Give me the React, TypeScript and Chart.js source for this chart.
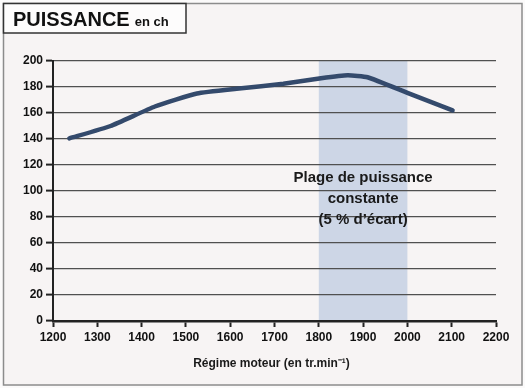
import React, { useEffect, useRef } from "react";
import { Chart, registerables } from "chart.js";

Chart.register(...registerables);

// ---- data ----
const RPM = [1237, 1330, 1430, 1525, 1620, 1720, 1805, 1865, 1910, 2000, 2102];
const POWER = [140.5, 150, 165, 175, 178.8, 182.5, 186.7, 189, 187.5, 175.5, 162];
const X_MIN = 1200;
const X_MAX = 2200;
const X_STEP = 100;
const Y_MIN = 0;
const Y_MAX = 200;
const Y_STEP = 20;
const BAND_START = 1800;
const BAND_END = 2000;
const BAND_LABEL = ["Plage de puissance", "constante", "(5 % d’écart)"];
const BAND_LABEL_VALUES = [110, 94, 78];
const TITLE_MAIN = "PUISSANCE";
const TITLE_UNIT = "en ch";
const X_TITLE = "Régime moteur (en tr.min⁻¹)";

const FONT = "'Liberation Sans', Arial, Helvetica, sans-serif";
const NARROW = "'Liberation Sans Narrow', 'Liberation Sans', Arial, sans-serif";
const BG = "#f7f4f4";
const LINE = "#344a6c";
const BAND = "#cdd6e6";

const decorPlugin = {
  id: "decor",
  beforeDraw(chart: any) {
    const { ctx, width, height, chartArea, scales } = chart;
    ctx.save();
    ctx.fillStyle = "#fbfafa";
    ctx.fillRect(0, 0, width, height);
    ctx.fillStyle = BG;
    ctx.fillRect(4, 4, 518, 381);
    ctx.strokeStyle = "#8c8c8c";
    ctx.lineWidth = 1.5;
    ctx.strokeRect(3.5, 3.5, 518.5, 381.5);
    // band
    const x1 = scales.x.getPixelForValue(BAND_START);
    const x2 = scales.x.getPixelForValue(BAND_END);
    ctx.fillStyle = BAND;
    ctx.fillRect(x1, chartArea.top, x2 - x1, chartArea.bottom - chartArea.top);
    // title box
    ctx.fillStyle = "#fdfcfc";
    ctx.fillRect(3, 3, 183, 30);
    ctx.strokeStyle = "#333";
    ctx.lineWidth = 1.5;
    ctx.strokeRect(3.5, 3.5, 182.5, 29.5);
    ctx.fillStyle = "#111";
    ctx.textBaseline = "alphabetic";
    ctx.textAlign = "left";
    ctx.font = `bold 20px ${FONT}`;
    ctx.fillText(TITLE_MAIN, 13, 26);
    const w = ctx.measureText(TITLE_MAIN).width;
    ctx.font = `bold 13px ${FONT}`;
    ctx.fillText(TITLE_UNIT, 13 + w + 5, 26);
    ctx.restore();
  },
  afterDatasetsDraw(chart: any) {
    const { ctx, chartArea, scales } = chart;
    ctx.save();
    const cx = (scales.x.getPixelForValue(BAND_START) + scales.x.getPixelForValue(BAND_END)) / 2;
    ctx.fillStyle = "#1a1a1a";
    ctx.textAlign = "center";
    ctx.textBaseline = "middle";
    ctx.font = `bold 15px ${FONT}`;
    BAND_LABEL.forEach((t, i) => {
      ctx.fillText(t, cx, scales.y.getPixelForValue(BAND_LABEL_VALUES[i]));
    });
    // x axis title
    ctx.font = `bold 12px ${FONT}`;
    ctx.fillStyle = "#1a1a1a";
    ctx.fillText(X_TITLE, (chartArea.left + chartArea.right) / 2 - 3, chartArea.bottom + 43);
    ctx.restore();
  },
};

export default function App() {
  const ref = useRef<HTMLCanvasElement>(null);
  useEffect(() => {
    if (!ref.current) return;
    const chart = new Chart(ref.current, {
      type: "line",
      data: {
        datasets: [
          {
            data: RPM.map((x, i) => ({ x, y: POWER[i] })),
            borderColor: LINE,
            borderWidth: 4.5,
            borderCapStyle: "round",
            borderJoinStyle: "round",
            pointRadius: 0,
            tension: 0.15,
            fill: false,
          },
        ],
      },
      options: {
        responsive: false,
        animation: false,
        layout: { padding: { left: 0, right: 29, top: 61, bottom: 0 } },
        plugins: { legend: { display: false }, tooltip: { enabled: false }, title: { display: false } },
        scales: {
          x: {
            type: "linear",
            min: X_MIN,
            max: X_MAX,
            afterFit: (s: any) => {
              s.height = 67;
            },
            afterBuildTicks: (s: any) => {
              const t = [];
              for (let v = X_MIN; v <= X_MAX; v += X_STEP) t.push({ value: v });
              s.ticks = t;
            },
            grid: {
              drawOnChartArea: false,
              drawTicks: true,
              tickLength: 6,
              tickColor: "#222",
              tickWidth: 2,
            },
            border: { display: true, color: "#222", width: 2.5 },
            ticks: {
              color: "#111",
              padding: 3,
              maxRotation: 0,
              autoSkip: false,
              font: { family: NARROW, size: 12, weight: "bold" },
              callback: (v: any) => String(v),
            },
          },
          y: {
            type: "linear",
            min: Y_MIN,
            max: Y_MAX,
            afterFit: (s: any) => {
              s.width = 53;
            },
            ticks: {
              stepSize: Y_STEP,
              color: "#111",
              padding: 3,
              font: { family: FONT, size: 12, weight: "bold" },
            },
            grid: {
              color: "#505050",
              lineWidth: 1.2,
              drawTicks: true,
              tickLength: 7,
              tickColor: "#222",
              tickWidth: 2,
            },
            border: { display: true, color: "#222", width: 2 },
          },
        },
      },
      plugins: [decorPlugin],
    } as any);
    return () => chart.destroy();
  }, []);
  return (
    <div style={{ position: "absolute", left: 0, top: 0, width: 525, height: 388 }}>
      <canvas ref={ref} width={525} height={388} style={{ display: "block" }} />
    </div>
  );
}
